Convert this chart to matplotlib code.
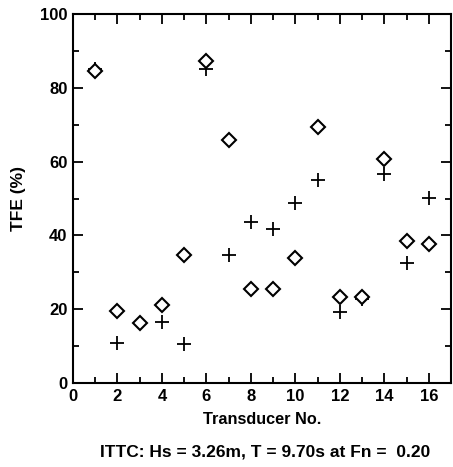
import matplotlib
matplotlib.use("Agg")
import matplotlib.pyplot as plt
import numpy as np

plt.rcParams["font.family"] = ["Liberation Sans", "DejaVu Sans"]

# Transducer numbers and TFE values
transducer = np.arange(1, 17)
tfe_diamond = [84.5, 19.5, 16.3, 21.1, 34.6, 87.3, 65.9, 25.5,
               25.5, 33.8, 69.4, 23.3, 23.4, 60.7, 38.4, 37.8]
tfe_cross = [85.2, 10.9, 16.3, 16.4, 10.6, 85.0, 34.7, 43.6,
             41.7, 48.8, 55.0, 19.2, 22.8, 56.6, 32.5, 50.2]

caption = "ITTC: Hs = 3.26m, T = 9.70s at Fn =  0.20"

fig = plt.figure(figsize=(4.53, 4.67), dpi=100)
ax = fig.add_axes([73 / 453, 1 - 383 / 467, (451 - 73) / 453, (383 - 14) / 467])

ax.plot(transducer, tfe_cross, linestyle="none", marker="+", markersize=10,
        markeredgewidth=1.3, color="black")
ax.plot(transducer, tfe_diamond, linestyle="none", marker="D", markersize=7,
        markerfacecolor="white", markeredgecolor="black", markeredgewidth=1.5)

ax.set_xlim(0, 17)
ax.set_ylim(0, 100)
ax.set_xticks(np.arange(0, 17, 2))
ax.set_xticks(np.arange(1, 17, 2), minor=True)
ax.set_yticks(np.arange(0, 101, 20))
ax.set_yticks(np.arange(10, 100, 20), minor=True)

ax.tick_params(which="both", direction="in", top=True, right=True, width=1.3)
ax.tick_params(which="major", length=7, labelsize=12, pad=4)
ax.tick_params(which="minor", length=4)
for lab in ax.get_xticklabels() + ax.get_yticklabels():
    lab.set_fontweight("bold")
for sp in ax.spines.values():
    sp.set_linewidth(1.5)

ax.set_xlabel("Transducer No.", fontsize=11.7, fontweight="bold", labelpad=6)
ax.set_ylabel("TFE (%)", fontsize=12.5, fontweight="bold", labelpad=10)

fig.text(265 / 453, 1 - 452 / 467, caption, ha="center", va="center",
         fontsize=12.5, fontweight="bold")

fig.savefig("out.png", dpi=100)
